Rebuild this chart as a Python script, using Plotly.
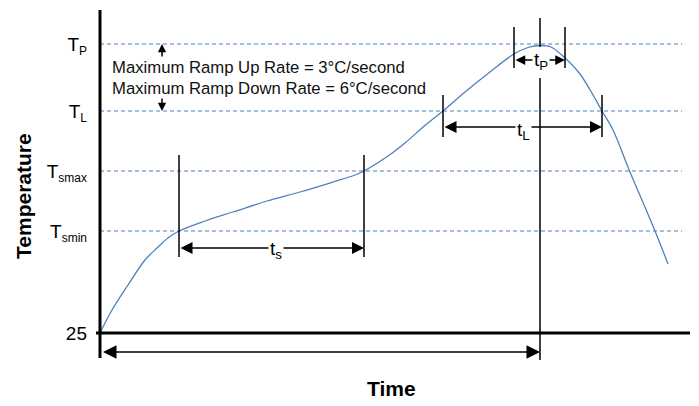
import plotly.graph_objects as go

# ---- data (schematic units: time in arbitrary units, temperature in schematic units above 25) ----
TIME = [0, 12, 28, 45, 57, 68, 79, 105, 133, 167, 200, 233, 255, 264, 288, 305, 322, 343,
        365, 390, 414, 428, 440, 451, 465, 480, 493, 502, 513, 530, 555, 568]
TEMP = [0, 23, 48, 73, 85, 95, 102, 112, 121, 132, 141, 151, 158, 162, 177, 190, 205, 222,
        241, 261, 279, 285.5, 287.5, 286, 275, 259, 238, 222, 203, 161, 102, 69]

SUB = '<sub><span style="font-size:12px">{}</span></sub>'
LEVEL_NAMES = ["25", "T" + SUB.format("smin"), "T" + SUB.format("smax"),
               "T" + SUB.format("L"), "T" + SUB.format("P")]
LEVEL_VALUES = [0, 102, 162, 222, 289]

TS_START, TS_END = 79, 264       # preheat window
TL_START, TL_END = 343, 502      # time above liquidus
TP_START, TP_END = 414, 465      # time within peak
T_PEAK = 440                     # time to peak
X_END = 590
DASH_END = 582

RAMP_TEXT = ["Maximum Ramp Up Rate = 3\u00b0C/second",
             "Maximum Ramp Down Rate = 6\u00b0C/second"]

BLUE = "#4F81BD"
FONT = "Liberation Sans, Arial, sans-serif"

fig = go.Figure()
fig.add_trace(go.Scatter(x=TIME, y=TEMP, mode="lines",
                         line=dict(color=BLUE, width=1.3, shape="spline", smoothing=1.0),
                         hoverinfo="skip"))

shapes = []
# dashed reference levels
for v in LEVEL_VALUES[1:]:
    shapes.append(dict(type="line", xref="x", yref="y", x0=0, x1=DASH_END, y0=v, y1=v,
                       line=dict(color=BLUE, width=1.1, dash="4px,3px"), layer="below"))
# axes
shapes.append(dict(type="line", xref="x", yref="y", x0=0, x1=0, y0=-25, y1=323,
                   line=dict(color="black", width=3)))
shapes.append(dict(type="line", xref="x", yref="y", x0=-4, x1=X_END, y0=0, y1=0,
                   line=dict(color="black", width=3)))
# markers
def vline(x, y0, y1):
    shapes.append(dict(type="line", xref="x", yref="y", x0=x, x1=x, y0=y0, y1=y1,
                       line=dict(color="black", width=1.5)))

for x in (TS_START, TS_END):
    vline(x, 76, 178)
for x in (TL_START, TL_END):
    vline(x, 196, 238)
for x in (TP_START, TP_END):
    vline(x, 265, 306)
vline(T_PEAK, 286, 315)
vline(T_PEAK, -27, 255)

annotations = []
def arrow(x0, y0, x1, y1, both=True, size=1.6):
    annotations.append(dict(x=x1, y=y1, ax=x0, ay=y0, xref="x", yref="y", axref="x", ayref="y",
                            text="", showarrow=True, arrowhead=2, arrowsize=size, arrowwidth=1.5,
                            arrowcolor="black", arrowside="end+start" if both else "end",
                            startarrowhead=2, startarrowsize=size))

arrow(TS_START, 85, TS_END, 85)
arrow(TL_START, 206, TL_END, 206)
arrow(TP_START, 273, TP_END, 273, size=1.3)
arrow(1.5, -19, T_PEAK, -19, size=1.8)
arrow(62, 275, 62, LEVEL_VALUES[4], both=False, size=1.1)
arrow(62, 236, 62, LEVEL_VALUES[3], both=False, size=1.1)

def label(text, x, y):
    annotations.append(dict(x=x, y=y, xref="x", yref="y", text=text, showarrow=False,
                            bgcolor="white", borderpad=1,
                            font=dict(family=FONT, size=19, color="black")))

label("t<sub>s</sub>", (TS_START + TS_END) / 2 + 4, 83)
label("t<sub>L</sub>", 423, 202)
label("t<sub>P</sub>", T_PEAK + 1, 272)

for txt, y in zip(RAMP_TEXT, (266, 245)):
    annotations.append(dict(x=10, y=y, xref="x", yref="y", text=txt, showarrow=False,
                            xanchor="left", font=dict(family=FONT, size=16.7, color="#111")))

annotations.append(dict(x=-0.11, y=0.4686, xref="paper", yref="paper", text="<b>Temperature</b>",
                        textangle=-90, showarrow=False, xanchor="center", yanchor="middle",
                        font=dict(family=FONT, size=21, color="black")))
annotations.append(dict(x=0.503, y=-0.08, xref="paper", yref="paper", text="<b>Time</b>",
                        showarrow=False, xanchor="center", yanchor="middle",
                        font=dict(family=FONT, size=21, color="black")))

fig.update_layout(
    width=699, height=406,
    margin=dict(l=90, r=9, t=10, b=46, pad=0),
    paper_bgcolor="white", plot_bgcolor="white",
    showlegend=False, hovermode=False,
    shapes=shapes, annotations=annotations,
    xaxis=dict(range=[-10, 590], visible=False, fixedrange=True),
    yaxis=dict(range=[-27, 323], tickvals=LEVEL_VALUES, ticktext=LEVEL_NAMES,
               showgrid=False, zeroline=False, showline=False, ticks="",
               ticklabelstandoff=2,
               tickfont=dict(family=FONT, size=19, color="black"), fixedrange=True),
)

fig.write_html("out.html", config={"displayModeBar": False},
               post_script="document.body.style.margin='0';document.body.style.overflow='hidden';")
